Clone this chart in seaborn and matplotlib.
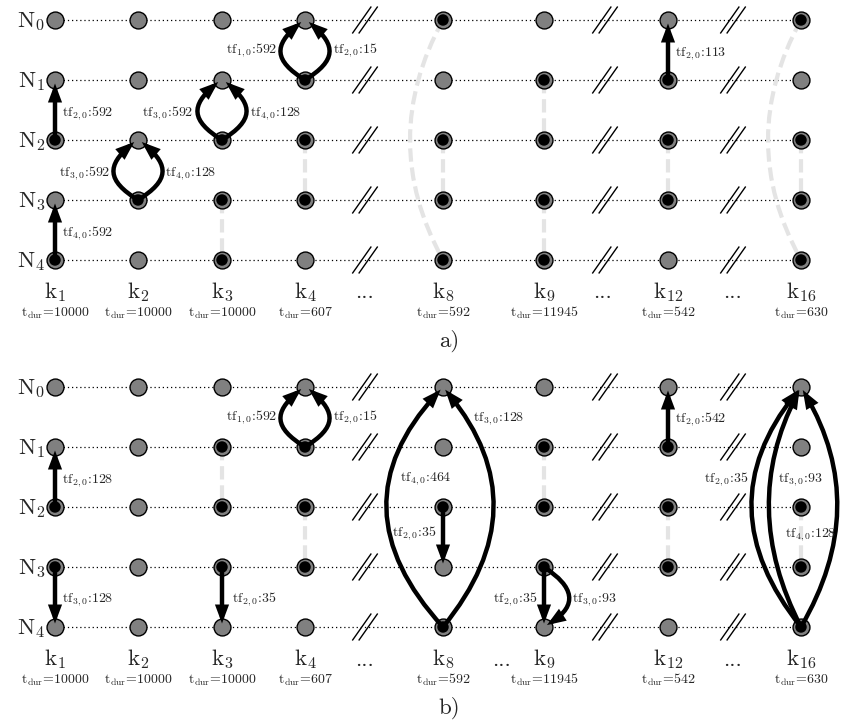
import numpy as np
import pandas as pd
import matplotlib
matplotlib.use("Agg")
import matplotlib.pyplot as plt
import seaborn as sns
from matplotlib.path import Path
from matplotlib.patches import FancyArrowPatch, PathPatch, ArrowStyle

# ---------------------------------------------------------------- data
slots = ["1", "2", "3", "4", "8", "9", "12", "16"]
durations = [10000, 10000, 10000, 607, 592, 11945, 542, 630]
node_ids = ["0", "1", "2", "3", "4"]

# nodes drawn with a black centre, listed per slot
active_a = [[2, 4], [3], [2, 3, 4], [1, 2, 3], [0, 2, 3, 4], [1, 2, 3, 4], [1, 2, 3], [0, 2, 3, 4]]
active_b = [[2, 3], [], [1, 2, 3], [1, 2, 3], [2, 4], [1, 2, 3], [1, 2, 3], [2, 3, 4]]

# light grey dashed links: (slot, node, node)
links_a = [("3", 3, 4), ("4", 2, 3), ("8", 2, 3), ("8", 0, 4), ("9", 1, 2),
           ("9", 3, 4), ("12", 2, 3), ("16", 2, 3), ("16", 0, 4)]
links_b = [("3", 1, 2), ("4", 2, 3), ("9", 1, 2), ("12", 2, 3), ("16", 2, 3)]

# transfers: (slot, from node, to node, flow index, amount)
flows_a = [("1", 2, 1, 2, 592), ("1", 4, 3, 4, 592),
           ("2", 3, 2, 3, 592), ("2", 3, 2, 4, 128),
           ("3", 2, 1, 3, 592), ("3", 2, 1, 4, 128),
           ("4", 1, 0, 1, 592), ("4", 1, 0, 2, 15),
           ("12", 1, 0, 2, 113)]
flows_b = [("1", 2, 1, 2, 128), ("1", 3, 4, 3, 128),
           ("3", 3, 4, 2, 35),
           ("4", 1, 0, 1, 592), ("4", 1, 0, 2, 15),
           ("8", 4, 0, 4, 464), ("8", 4, 0, 3, 128), ("8", 2, 3, 2, 35),
           ("9", 3, 4, 2, 35), ("9", 3, 4, 3, 93),
           ("12", 1, 0, 2, 542),
           ("16", 4, 0, 2, 35), ("16", 4, 0, 3, 93), ("16", 4, 0, 4, 128)]

# ---------------------------------------------------------------- layout (pixels)
col_x = [55, 138, 222, 305, 443, 544, 668, 801]
row_y = [20, 80, 140, 200, 260]
panel_shift = [0, 367]
break_x = [365, 605, 733]
dots_x = [[365, 603, 733], [365, 502, 733]]

# link shape: bend in px (0 = straight)
links_a_bend = [0, 0, 0, -33, 0, 0, 0, 0, -33]
links_b_bend = [0, 0, 0, 0, 0]

# arrow shape ("line", "loop", "arc"), side/bend, label dx, label dy, ha
flows_a_geo = [("line", 0, 7, 2, "left"), ("line", 0, 7, 2, "left"),
               ("loop", -1, -28, 2, "right"), ("loop", 1, 27, 2, "left"),
               ("loop", -1, -29, 2, "right"), ("loop", 1, 28, 2, "left"),
               ("loop", -1, -28, -1, "right"), ("loop", 1, 28, -1, "left"),
               ("line", 0, 7, 2, "left")]
flows_b_geo = [("line", 0, 7, 1.5, "left"), ("line", 0, 7, 0.5, "left"),
               ("line", 0, 10, 0.5, "left"),
               ("loop", -1, -28, -1, "right"), ("loop", 1, 28, -1, "left"),
               ("arc", -55, -43, -30, "left"), ("arc", 49, 30, -90.5, "left"),
               ("line", 0, -7, -5.5, "right"),
               ("line", 0, -7, 0.5, "right"), ("arc", 23, 28, 0.5, "left"),
               ("line", 0, 7, 1, "left"),
               ("arc", -48, -53, -29.5, "right"), ("arc", -31, -23, -29.5, "left"),
               ("arc", 35, -16, 26, "left")]

NODE_GREY = "#808080"
LINK_GREY = "#e4e4e4"

sns.set_theme(style="white")
plt.rcParams["font.family"] = ["cmr10", "DejaVu Serif"]
plt.rcParams["mathtext.fontset"] = "cm"
plt.rcParams["axes.unicode_minus"] = False

fig = plt.figure(figsize=(8.41, 7.28), dpi=100)
ax = fig.add_axes([0, 0, 1, 1])

slot_x = dict(zip(slots, col_x))


def shorten(end, prev, gap):
    v = np.array(end, float) - np.array(prev, float)
    n = np.hypot(*v)
    return tuple(np.array(end, float) - v / n * gap) if n > 0 else end


def quad(x, y0, y1, bend, gap=0.0):
    c = (x + 2 * bend, (y0 + y1) / 2)
    end = shorten((x, y1), c, gap)
    return Path([(x, y0), c, end], [Path.MOVETO, Path.CURVE3, Path.CURVE3])


def loop(x, y0, y1, side, w=32, gap=3.0):
    s = np.sign(y1 - y0)
    d = abs(y1 - y0)
    p1 = (x + side * w, y0 + s * d * 0.33)
    p2 = (x + side * w * 0.95, y1 - s * d * 0.42)
    end = shorten((x + side * 1.5, y1), p2, gap)
    return Path([(x, y0), p1, p2, end], [Path.MOVETO, Path.CURVE4, Path.CURVE4, Path.CURVE4])


records = []
for p, active in enumerate([active_a, active_b]):
    for ci, s in enumerate(slots):
        for r in range(len(node_ids)):
            records.append({"panel": p, "x": col_x[ci], "y": row_y[r] + panel_shift[p],
                            "active": r in active[ci]})
nodes_df = pd.DataFrame(records)

# node circles and black centres
sns.scatterplot(data=nodes_df, x="x", y="y", s=148, color=NODE_GREY, edgecolor="black",
                linewidth=1.0, zorder=3, ax=ax, legend=False)
sns.scatterplot(data=nodes_df[nodes_df["active"]], x="x", y="y", s=68, color="black",
                edgecolor="none", linewidth=0, zorder=4, ax=ax, legend=False)

arrow_style = ArrowStyle("-|>", head_length=0.75, head_width=0.28)

for p in range(2):
    off = panel_shift[p]
    ys = [y + off for y in row_y]
    # dotted rows
    ax.hlines(ys, col_x[0], col_x[-1], colors="black", linestyles=(0, (1, 2.3)),
              linewidth=0.9, zorder=1)
    # break marks
    for bx in break_x:
        for y in ys:
            for o in (-3.2, 3.2):
                ax.plot([bx + o - 9.5, bx + o + 9.5], [y + 13.5, y - 13.5],
                        color="black", lw=1.0, zorder=2, solid_capstyle="butt")
    # row names
    for r, n in enumerate(node_ids):
        ax.text(45, ys[r] + 7.5, rf"$\mathrm{{N}}_{{{n}}}$", ha="right", va="baseline",
                fontsize=16.5)
    # slot names and durations
    for ci, s in enumerate(slots):
        ax.text(col_x[ci], ys[-1] + 38.5, rf"$\mathrm{{k}}_{{{s}}}$", ha="center",
                va="baseline", fontsize=16.5)
        ax.text(col_x[ci], ys[-1] + 56.5, rf"$\mathrm{{t}}_{{\mathrm{{dur}}}}$={durations[ci]}",
                ha="center", va="baseline", fontsize=10)
    for dx in dots_x[p]:
        ax.text(dx, ys[-1] + 38.5, "...", ha="center", va="baseline", fontsize=16)
    ax.text(449, ys[-1] + 87, "a)" if p == 0 else "b)", ha="center", va="baseline",
            fontsize=16.5)

    # grey dashed links
    links = [links_a, links_b][p]
    bends = [links_a_bend, links_b_bend][p]
    for (s, r0, r1), b in zip(links, bends):
        path = quad(slot_x[s], ys[r0], ys[r1], b)
        ax.add_patch(PathPatch(path, facecolor="none", edgecolor=LINK_GREY, lw=3.0,
                               linestyle=(0, (3.2, 1.4)), zorder=2, capstyle="butt"))

    # transfer arrows with labels
    flows = [flows_a, flows_b][p]
    geos = [flows_a_geo, flows_b_geo][p]
    for (s, r0, r1, i, amt), (kind, par, ldx, ldy, ha) in zip(flows, geos):
        x = slot_x[s]
        y0, y1 = ys[r0], ys[r1]
        if kind == "line":
            path = quad(x, y0, y1, 0, gap=3.5)
        elif kind == "loop":
            path = loop(x, y0, y1, par)
        else:
            path = quad(x, y0, y1, par, gap=3.5)
        ax.add_patch(FancyArrowPatch(path=path, arrowstyle=arrow_style, mutation_scale=10,
                                     lw=3.2, color="black", zorder=5, joinstyle="miter"))
        ym = (y0 + y1) / 2 + ldy
        ax.text(x + ldx, ym + 4.2, rf"$\mathrm{{tf}}_{{{i},0}}$:{amt}", ha=ha,
                va="baseline", fontsize=10, zorder=6)

ax.set_xlim(0, 841)
ax.set_ylim(728, 0)
ax.axis("off")
fig.savefig("out.png", dpi=100, facecolor="white")
